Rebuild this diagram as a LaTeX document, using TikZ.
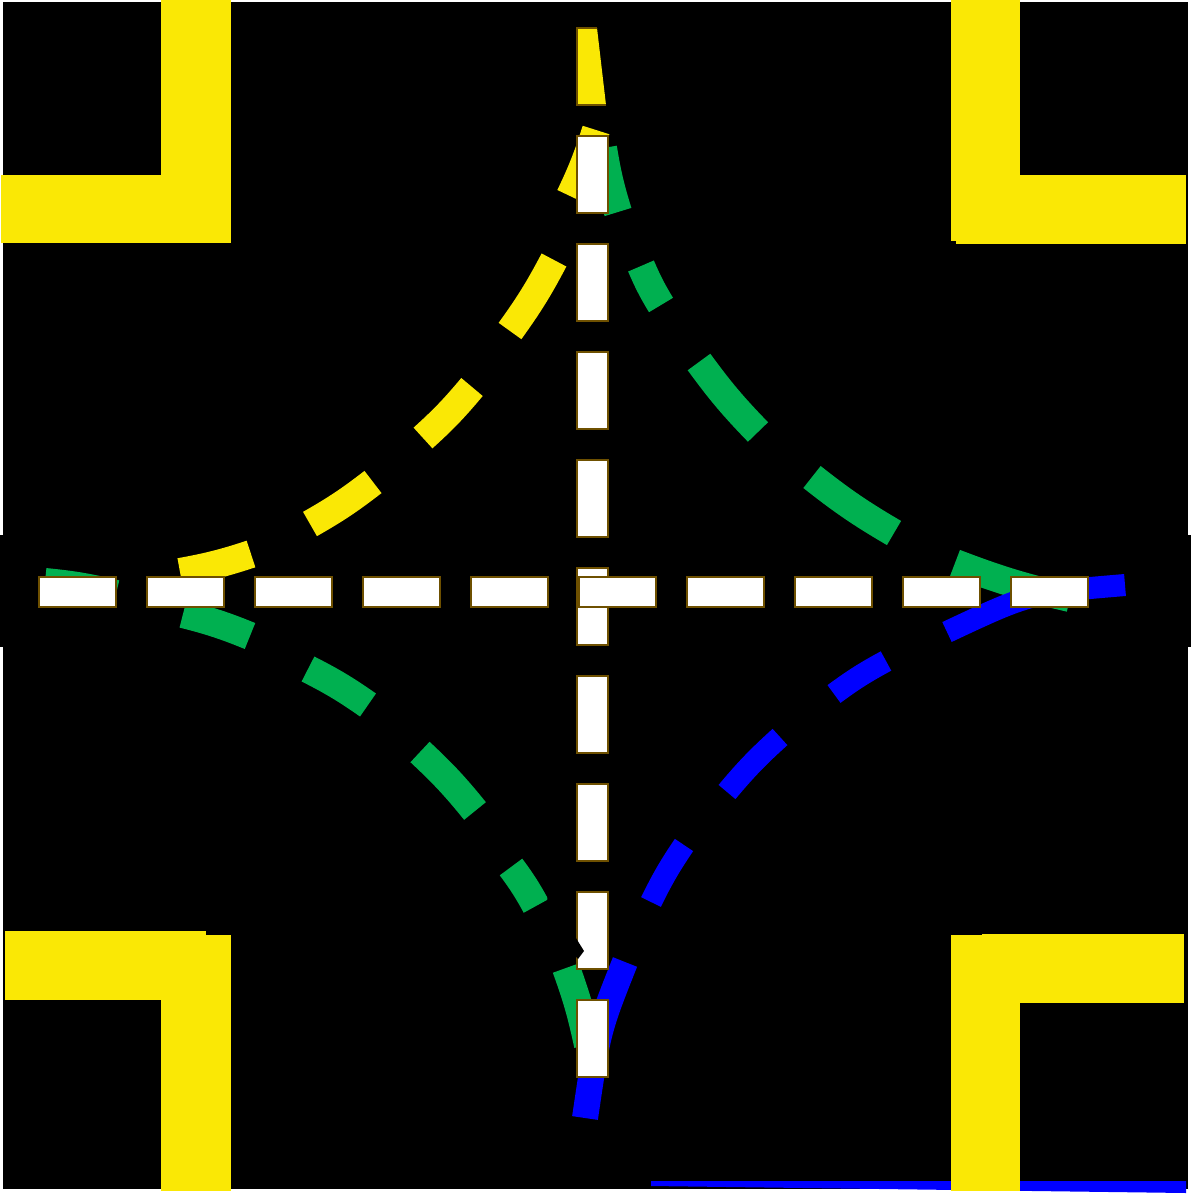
\documentclass[tikz,border=0pt]{standalone}
\definecolor{ylw}{RGB}{250,232,5}
\definecolor{grn}{RGB}{0,176,80}
\definecolor{blu}{RGB}{0,0,255}
\definecolor{brn}{RGB}{110,80,0}
\begin{document}
\begin{tikzpicture}[x=1pt,y=-1pt,
  ydash/.style={draw=ylw,line width=28pt},
  gdash/.style={draw=grn,line width=28pt},
  bdash/.style={draw=blu,line width=22pt},
  corner/.style={fill=ylw},
  lanebox/.style={fill=white,draw=brn,line width=2.5pt}]
\useasboundingbox (0,0) rectangle (1191,1194);
% background
\fill[black] (3,2) rectangle (1188,1189);
\fill[black] (0,535) rectangle (1191,647);
% blue bottom edge line
\fill[blu] (651,1181) -- (1186,1181) -- (1186,1193) -- (651,1186) -- cycle;
% yellow corners
\fill[corner] (161,0) rectangle (231,243);
\fill[corner] (1,175) rectangle (231,243);
\fill[corner] (951,0) rectangle (1020,241);
\fill[corner] (956,175) rectangle (1186,244);
\fill[corner] (5,931) rectangle (206,1000);
\fill[corner] (161,935) rectangle (231,1191);
\fill[corner] (951,935) rectangle (1020,1191);
\fill[corner] (982,934) rectangle (1184,1003);
% yellow dashed curve (top-left)
\draw[ydash] (596,130) to[bend left=4] (570,196);
\draw[ydash] (554,260) to[bend left=4] (510,331);
\draw[ydash] (472,387) to[bend left=4] (423,438);
\draw[ydash] (373,482) to[bend left=4] (310,524);
\draw[ydash] (251,554) to[bend left=4] (180,572);
% green dashed curve (top-right)
\draw[gdash] (603,148) to[bend right=4] (618,212);
\draw[gdash] (641,266) to[bend right=4] (661,305);
\draw[gdash] (699,362) to[bend right=4] (758,432);
\draw[gdash] (812,477) to[bend right=4] (894,533);
\draw[gdash] (955,563) to[bend right=4] (1070,598);
% green dashed curve (bottom-left)
\draw[gdash] (45,582) to[bend left=4] (116,594);
\draw[gdash] (183,614) to[bend left=4] (250,636);
\draw[gdash] (308,669) to[bend left=4] (368,705);
\draw[gdash] (420,752) to[bend left=4] (475,811);
\draw[gdash] (511,867) to[bend left=4] (536,906);
\draw[gdash] (566,968) to[bend left=4] (588,1045);
% blue dashed curve (bottom-right)
\draw[bdash] (1125,585) .. controls (1030,593) .. (947,632);
\draw[bdash] (886,661) to[bend right=4] (834,694);
\draw[bdash] (780,737) to[bend right=4] (727,792);
\draw[bdash] (684,845) to[bend right=4] (651,902);
\draw[bdash,line width=26pt] (625,962) .. controls (598,1030) .. (585,1118);
% vertical lane boxes
\foreach \k in {1,...,9} {
  \draw[lanebox] (577,28+108*\k) rectangle (608,105+108*\k);
}
% black wedge
\fill[black] (548,893) -- (584,951) -- (578,959) -- (545,920) -- cycle;
% first (yellow) box at top
\fill[ylw] (577,28) -- (597,28) -- (606,105) -- (577,105) -- cycle;
\draw[brn,line width=2.5pt] (597,28) -- (577,28) -- (577,105) -- (606,105);
% horizontal lane boxes
\foreach \k in {0,...,9} {
  \draw[lanebox] (39+108*\k,577) rectangle (116+108*\k,607);
}
\end{tikzpicture}
\end{document}
